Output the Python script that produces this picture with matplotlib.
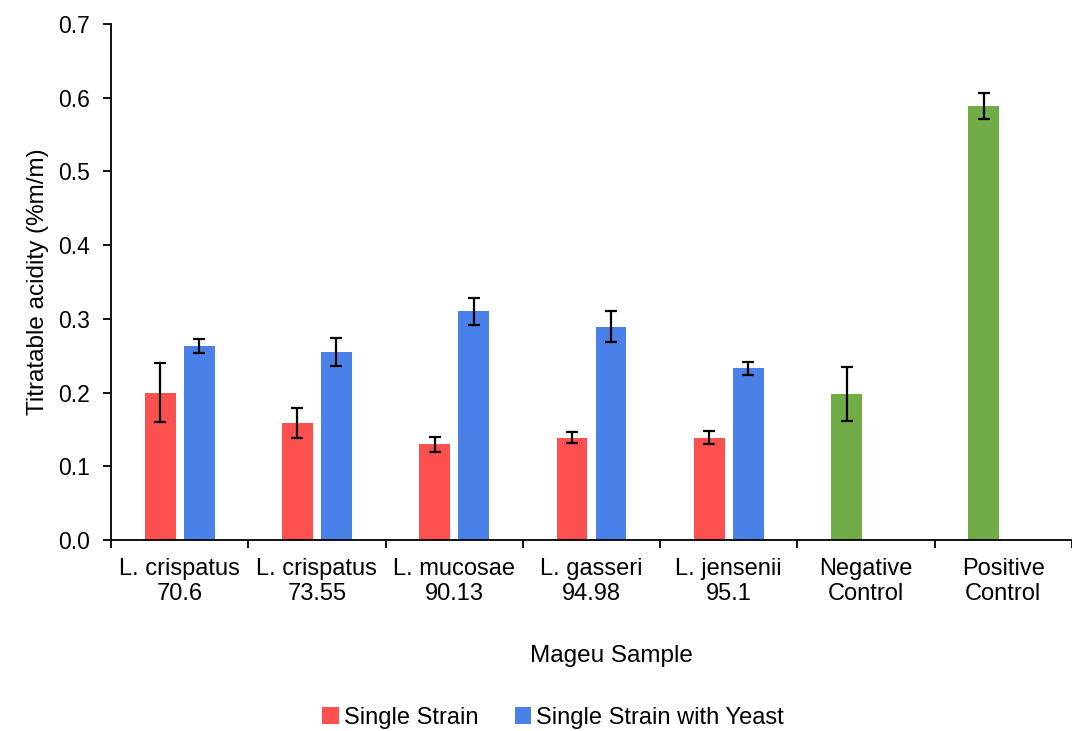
import numpy as np
import matplotlib
matplotlib.use('Agg')
import matplotlib.pyplot as plt

plt.rcParams['font.family'] = ['Liberation Sans', 'DejaVu Sans']

# dados
categorias = ['L. crispatus\n70.6', 'L. crispatus\n73.55', 'L. mucosae\n90.13',
              'L. gasseri\n94.98', 'L. jensenii\n95.1', 'Negative\nControl', 'Positive\nControl']
single = [0.200, 0.159, 0.130, 0.139, 0.139]
single_err = [0.040, 0.020, 0.010, 0.007, 0.009]
yeast = [0.263, 0.255, 0.310, 0.289, 0.233]
yeast_err = [0.009, 0.019, 0.018, 0.021, 0.009]
controle = [0.198, 0.589]
controle_err = [0.037, 0.018]

cor_red = '#FF5050'
cor_blue = '#4A81E8'
cor_green = '#70AD47'

fig = plt.figure(figsize=(10.72, 7.31), dpi=100)
ax = fig.add_axes([111/1072, 1 - 540/731, 1 - 111/1072, (540 - 24)/731])

larg = 0.224
desl = 0.142
x = np.arange(len(categorias))
eb = dict(ecolor='black', elinewidth=1.6, capsize=4.5, capthick=1.6)

ax.bar(x[:5] - desl, single, larg, color=cor_red, yerr=single_err, error_kw=eb, label='Single Strain')
ax.bar(x[:5] + desl, yeast, larg, color=cor_blue, yerr=yeast_err, error_kw=eb, label='Single Strain with Yeast')
ax.bar(x[5:] - desl, controle, larg, color=cor_green, yerr=controle_err, error_kw=eb)

ax.set_ylim(0, 0.7)
ax.set_yticks(np.arange(0, 0.71, 0.1))
ax.set_yticklabels(['%.1f' % v for v in np.arange(0, 0.71, 0.1)])
ax.set_xlim(-0.5, -0.5 + (1072 - 111) / 138.5)

ax.set_xticks(np.arange(-0.5, 7, 1))
ax.set_xticklabels([])
ax.set_xticks(x, minor=True)
ax.set_xticklabels(categorias, minor=True)
ax.tick_params(axis='x', which='minor', length=0, pad=13, labelsize=17)
ax.tick_params(axis='x', which='major', length=6, width=1.3, direction='out')
ax.tick_params(axis='y', length=6, width=1.3, direction='out', labelsize=16.5, pad=9)

for s in ['top', 'right']:
    ax.spines[s].set_visible(False)
ax.spines['left'].set_linewidth(1.3)
ax.spines['bottom'].set_linewidth(1.3)

ax.set_ylabel('Titratable acidity (%m/m)', fontsize=17.5, labelpad=7)
fig.text(611/1072, 1 - 656/731, 'Mageu Sample', fontsize=17.5, ha='center', va='center')

fig.legend(loc='center', bbox_to_anchor=(553/1072, 1 - 718/731), ncol=2, frameon=False,
           fontsize=17, handlelength=0.7, handleheight=0.7, handletextpad=0.2, columnspacing=1.55)

fig.savefig('out.png', dpi=100)
